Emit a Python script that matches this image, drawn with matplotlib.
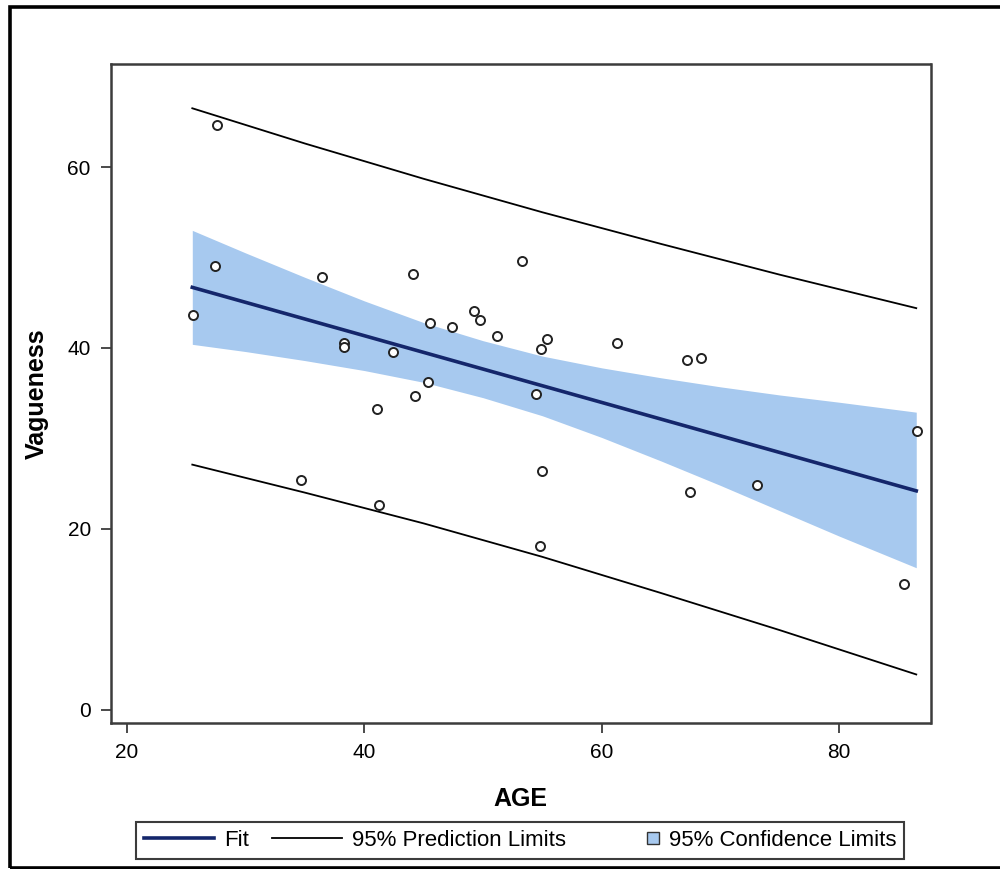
import matplotlib
matplotlib.use('Agg')
import matplotlib.pyplot as plt
import matplotlib.patches as mpatches
from matplotlib.lines import Line2D
from matplotlib.legend_handler import HandlerPatch

plt.rcParams['font.family'] = ['Liberation Sans', 'DejaVu Sans']

# observed points
age = [25.6, 27.6, 27.4, 34.7, 36.4, 38.3, 38.3, 41.1, 41.2, 42.4, 44.1,
       44.3, 45.4, 45.5, 47.4, 49.2, 49.7, 51.2, 53.3, 54.5, 54.8, 54.9,
       55.0, 55.4, 61.3, 67.2, 67.4, 68.4, 73.1, 85.5, 86.6]
vagueness = [43.6, 64.7, 49.1, 25.4, 47.8, 40.6, 40.1, 33.2, 22.6, 39.5, 48.2,
             34.7, 36.2, 42.8, 42.3, 44.1, 43.1, 41.3, 49.6, 34.9, 18.1, 39.9,
             26.4, 41.0, 40.5, 38.7, 24.1, 38.9, 24.9, 13.9, 30.8]

# regression fit
fit_x = [25.5, 86.5]
fit_y = [46.7, 24.2]

# 95% confidence band
ci_x = [25.5, 30, 35, 40, 45, 50, 55, 60, 65, 70, 75, 80, 86.5]
ci_upper = [53.0, 50.5, 47.8, 45.2, 42.8, 40.8, 39.1, 37.8, 36.7, 35.7, 34.8, 34.0, 32.9]
ci_lower = [40.4, 39.6, 38.6, 37.5, 36.2, 34.5, 32.5, 30.1, 27.5, 24.8, 22.0, 19.2, 15.7]

# 95% prediction limits
pi_x = [25.5, 35, 45, 55, 65, 75, 86.5]
pi_upper = [66.5, 62.6, 58.7, 55.0, 51.5, 48.1, 44.4]
pi_lower = [27.1, 24.0, 20.6, 16.9, 12.9, 8.8, 3.9]

band_color = '#a7c9ef'
fit_color = '#14266b'
frame_color = '#3c3c3c'

fig = plt.figure(figsize=(10, 8.69), dpi=100)
ax = fig.add_axes([0.111, 0.1684, 0.8195, 0.758])

ax.fill_between(ci_x, ci_lower, ci_upper, color=band_color, lw=0, zorder=1)
ax.plot(pi_x, pi_upper, color='black', lw=1.3, zorder=2)
ax.plot(pi_x, pi_lower, color='black', lw=1.3, zorder=2)
ax.plot(fit_x, fit_y, color=fit_color, lw=2.6, zorder=3)
ax.plot(age, vagueness, 'o', ms=6.5, mfc='white', mec='#222222', mew=1.4,
        zorder=4)

ax.set_xlim(18.65, 87.7)
ax.set_ylim(-1.43, 71.4)
ax.set_xticks([20, 40, 60, 80])
ax.set_yticks([0, 20, 40, 60])
ax.tick_params(direction='out', length=7.5, width=1.3, color=frame_color,
               labelsize=15, pad=7)
for s in ax.spines.values():
    s.set_color(frame_color)
    s.set_linewidth(1.8)

ax.set_xlabel('AGE', fontsize=18, fontweight='bold')
ax.set_ylabel('Vagueness', fontsize=18, fontweight='bold')
ax.xaxis.set_label_coords(0.5, -0.098)
ax.yaxis.set_label_coords(-0.076, 0.5)


def small_square(legend, orig_handle, xdescent, ydescent, width, height,
                 fontsize):
    s = 8.5
    return mpatches.Rectangle((-xdescent + width - s, -ydescent + (height - s) / 2),
                              s, s)


handles = [
    Line2D([], [], color=fit_color, lw=2.6),
    Line2D([], [], color='black', lw=1.3),
    mpatches.Patch(facecolor=band_color, edgecolor='#333333', lw=1.0),
]
labels = ['Fit', '95% Prediction Limits', '95% Confidence Limits']
leg = fig.legend(handles, labels, loc='center', ncol=3,
                 bbox_to_anchor=(0.520, 1 - 840 / 869),
                 fontsize=16, handlelength=3.15, handletextpad=0.45,
                 columnspacing=1.04, borderpad=0.36, fancybox=False,
                 framealpha=1, edgecolor=frame_color,
                 handler_map={mpatches.Patch: HandlerPatch(patch_func=small_square)})
leg.get_frame().set_linewidth(1.5)

# outer border of the picture
fig.add_artist(mpatches.Rectangle((0.0103, 1 - 867.5 / 869), 1.2, (867.5 - 6.5) / 869,
                                  transform=fig.transFigure, fill=False,
                                  edgecolor='black', lw=2.6, clip_on=False))

plt.savefig('out.png', dpi=100)
